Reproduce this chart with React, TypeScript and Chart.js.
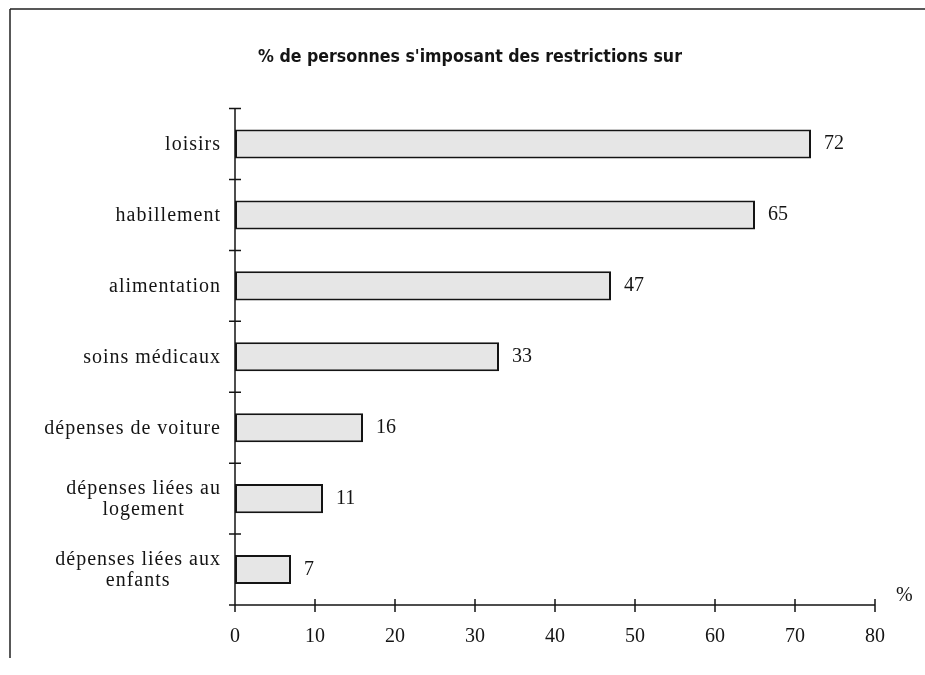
import React, { useEffect, useRef } from "react";
import { Chart, registerables } from "chart.js";

Chart.register(...registerables);

const TITLE = "% de personnes s'imposant des restrictions sur";
const CATEGORIES: string[][] = [
  ["loisirs"],
  ["habillement"],
  ["alimentation"],
  ["soins médicaux"],
  ["dépenses de voiture"],
  ["dépenses liées au", "logement"],
  ["dépenses liées aux", "enfants"],
];
const VALUES = [72, 65, 47, 33, 16, 11, 7];
const X_MIN = 0;
const X_MAX = 80;
const X_STEP = 10;
const UNIT = "%";

const SERIF = "'Liberation Serif', 'Times New Roman', serif";
const INK = "#141414";

const decorPlugin = {
  id: "decor",
  beforeDraw(chart: any) {
    const ctx = chart.ctx;
    ctx.save();
    ctx.strokeStyle = "#222";
    ctx.lineWidth = 1.5;
    ctx.beginPath();
    ctx.moveTo(10, 9);
    ctx.lineTo(925, 9);
    ctx.moveTo(10, 9);
    ctx.lineTo(10, 658);
    ctx.stroke();
    ctx.restore();
  },
  afterDatasetsDraw(chart: any) {
    const ctx = chart.ctx;
    const xs = chart.scales.x;
    const ys = chart.scales.y;
    const area = chart.chartArea;
    const x0 = xs.getPixelForValue(X_MIN);
    const xEnd = xs.getPixelForValue(X_MAX);
    const n = CATEGORIES.length;
    const step = ys.getPixelForValue(1) - ys.getPixelForValue(0);
    ctx.save();
    ctx.strokeStyle = INK;
    ctx.lineWidth = 1.5;
    ctx.beginPath();
    // y axis
    ctx.moveTo(x0, area.top);
    ctx.lineTo(x0, area.bottom);
    for (let i = 0; i <= n; i++) {
      const y = ys.getPixelForValue(i) - step / 2;
      ctx.moveTo(x0 - 6, y);
      ctx.lineTo(x0 + 6, y);
    }
    // x axis
    ctx.moveTo(x0 - 6, area.bottom);
    ctx.lineTo(xEnd, area.bottom);
    for (let v = X_MIN; v <= X_MAX; v += X_STEP) {
      const x = xs.getPixelForValue(v);
      ctx.moveTo(x, area.bottom - 6);
      ctx.lineTo(x, area.bottom + 7);
    }
    ctx.stroke();

    ctx.fillStyle = INK;
    ctx.textBaseline = "middle";
    // category labels
    ctx.font = "20px " + SERIF;
    (ctx as any).letterSpacing = "1px";
    const lineH = 21;
    const rightEdge = x0 - 14;
    CATEGORIES.forEach((lines, i) => {
      const cy = ys.getPixelForValue(i);
      const widths = lines.map((l) => ctx.measureText(l).width);
      const w = Math.max(...widths);
      const cx = rightEdge - w / 2;
      ctx.textAlign = "center";
      lines.forEach((l, j) => {
        const y = cy + (j - (lines.length - 1) / 2) * lineH + 1;
        ctx.fillText(l, cx, y);
      });
    });
    (ctx as any).letterSpacing = "0px";
    // value labels
    ctx.font = "20px " + SERIF;
    const meta = chart.getDatasetMeta(0);
    ctx.textAlign = "left";
    meta.data.forEach((bar: any, i: number) => {
      ctx.fillText(String(VALUES[i]), bar.x + 13, bar.y);
    });
    // unit
    ctx.fillText(UNIT, xEnd + 21, area.bottom - 9);
    ctx.restore();
  },
};

export default function App() {
  const ref = useRef<HTMLCanvasElement | null>(null);
  useEffect(() => {
    if (!ref.current) return;
    const chart = new Chart(ref.current, {
      type: "bar",
      data: {
        labels: CATEGORIES.map((c) => c.join(" ")),
        datasets: [
          {
            data: VALUES,
            backgroundColor: "#e6e6e6",
            borderColor: INK,
            borderWidth: 2,
            borderSkipped: false,
            categoryPercentage: 1,
            barPercentage: 0.41,
          },
        ],
      },
      options: {
        indexAxis: "y",
        animation: false,
        responsive: false,
        layout: { padding: { left: 65, right: 50, top: 0, bottom: 0 } },
        plugins: {
          legend: { display: false },
          tooltip: { enabled: false },
          title: {
            display: true,
            text: TITLE,
            color: INK,
            font: { family: "'Liberation Sans Narrow', 'DejaVu Sans Condensed', sans-serif", size: 17.6, weight: "bold" },
            padding: { top: 47, bottom: 40.5 },
          },
        },
        scales: {
          x: {
            type: "linear",
            min: X_MIN,
            max: X_MAX,
            grid: { display: false },
            border: { display: false },
            ticks: {
              stepSize: X_STEP,
              color: INK,
              padding: 12,
              font: { family: SERIF, size: 20 },
            },
            afterFit: (s: any) => {
              s.height = 70;
            },
          },
          y: {
            type: "category",
            grid: { display: false },
            border: { display: false },
            ticks: { display: false },
            afterFit: (s: any) => {
              s.width = 170;
            },
          },
        },
      },
      plugins: [decorPlugin],
    });
    return () => chart.destroy();
  }, []);
  return (
    <div style={{ position: "fixed", left: 0, top: 0, width: 925, height: 675, background: "#fff" }}>
      <canvas ref={ref} width={925} height={675} style={{ width: 925, height: 675, display: "block" }} />
    </div>
  );
}
